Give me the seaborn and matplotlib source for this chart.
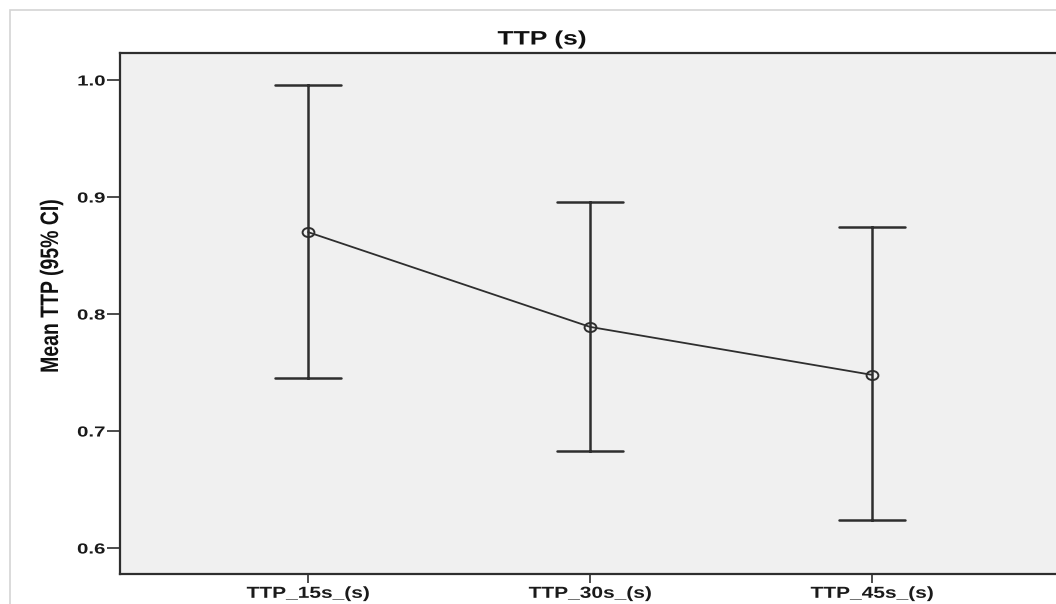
import pandas as pd
import numpy as np
import seaborn as sns
import matplotlib
matplotlib.use('Agg')
import matplotlib.pyplot as plt
from matplotlib.patches import Rectangle
from matplotlib.patheffects import AbstractPathEffect
from matplotlib.transforms import Affine2D
from matplotlib.path import Path

# 讀圖估計的數值 (mean 與 95% CI)
categories = ['TTP_15s_(s)', 'TTP_30s_(s)', 'TTP_45s_(s)']
mean_ttp = [0.870, 0.789, 0.748]
ci_low = [0.745, 0.683, 0.624]
ci_high = [0.996, 0.896, 0.874]
y_ticks = [0.6, 0.7, 0.8, 0.9, 1.0]

# 每組放 low / mean / high, 用 median + 100% 區間 畫出來
rows = []
for cat, lo, m, hi in zip(categories, ci_low, mean_ttp, ci_high):
    for v in (lo, m, hi):
        rows.append({'group': cat, 'value': v})
df = pd.DataFrame(rows)


# 原圖是被橫向拉寬的 SPSS 圖, 文字也跟著變寬
class Stretch(AbstractPathEffect):
    def __init__(self, sx=1.0, sy=1.0, anchor='center'):
        super().__init__()
        self.sx, self.sy, self.anchor = sx, sy, anchor

    def draw_path(self, renderer, gc, tpath, affine, rgbFace=None):
        ext = tpath.get_extents()
        cx = ext.x1 if self.anchor == 'right' else ext.x0 + ext.width / 2
        cy = ext.y0 + ext.height / 2
        t = Affine2D().translate(-cx, -cy).scale(self.sx, self.sy).translate(cx, cy)
        renderer.draw_path(gc, tpath, t + affine, rgbFace)


sns.set_style('white')
plt.rcParams['font.family'] = ['Liberation Sans', 'DejaVu Sans']

W, H = 1056, 604
fig = plt.figure(figsize=(W / 100, H / 100), dpi=100)
fig.patch.set_facecolor('white')

# 外框
fig.patches.append(Rectangle((10 / W, -0.1), 1.2, 1 - 10 / H + 0.1, transform=fig.transFigure,
                             fill=False, edgecolor='#d4d4d4', linewidth=1.2))

ax = fig.add_axes([120 / W, 1 - 574 / H, (W - 120) / W, (574 - 53) / H])
ax.set_facecolor('#f0f0f0')

dark = '#2e2e2e'
sns.pointplot(data=df, x='group', y='value', order=categories,
              estimator='median', errorbar=('pi', 100), capsize=0.234,
              color=dark, linewidth=1.3, markersize=8,
              markerfacecolor='none', markeredgecolor=dark, markeredgewidth=1.3,
              err_kws={'linewidth': 1.8, 'color': dark}, ax=ax)

# 圓點也是橫向拉寬的橢圓
ell = Path.unit_circle().transformed(Affine2D().scale(1.3, 1.0))
for line in ax.lines:
    if line.get_marker() not in (None, 'None', '', ' '):
        line.set_marker(ell)
        line.set_markersize(8.5)
        line.set_markerfacecolor('none')
        line.set_markeredgewidth(1.4)

ax.set_xlim(-0.667, 2 + 184 / 282)
ax.set_ylim(0.5778, 1.0231)
ax.set_yticks(y_ticks)
ax.set_yticklabels(['%.1f' % t for t in y_ticks])
ax.set_xlabel('')
ax.set_ylabel('')

for s in ['left', 'bottom', 'top']:
    ax.spines[s].set_color(dark)
    ax.spines[s].set_linewidth(1.6)
ax.spines['right'].set_visible(False)

ax.tick_params(axis='y', direction='out', length=9.5, width=1.2, color=dark, pad=1,
               left=True, labelsize=10.5)
ax.tick_params(axis='x', direction='out', length=6.5, width=1.2, color=dark, pad=2,
               bottom=True, labelsize=11.5)
for lab in ax.get_xticklabels():
    lab.set_fontweight('bold')
    lab.set_color('#1a1a1a')
    lab.set_path_effects([Stretch(1.31)])
for lab in ax.get_yticklabels():
    lab.set_fontweight('bold')
    lab.set_color('#1a1a1a')
    lab.set_path_effects([Stretch(1.4, anchor='right')])

fig.text(542 / W, 1 - 40 / H, 'TTP (s)', ha='center', va='center',
         fontsize=14, fontweight='bold', color='#111111',
         path_effects=[Stretch(1.36)])
fig.text(52 / W, 1 - 286 / H, 'Mean TTP (95% CI)', ha='center', va='center',
         rotation=90, fontsize=14, fontweight='bold', color='#111111',
         path_effects=[Stretch(1.0, 1.3)])

plt.savefig('out.png', dpi=100)
